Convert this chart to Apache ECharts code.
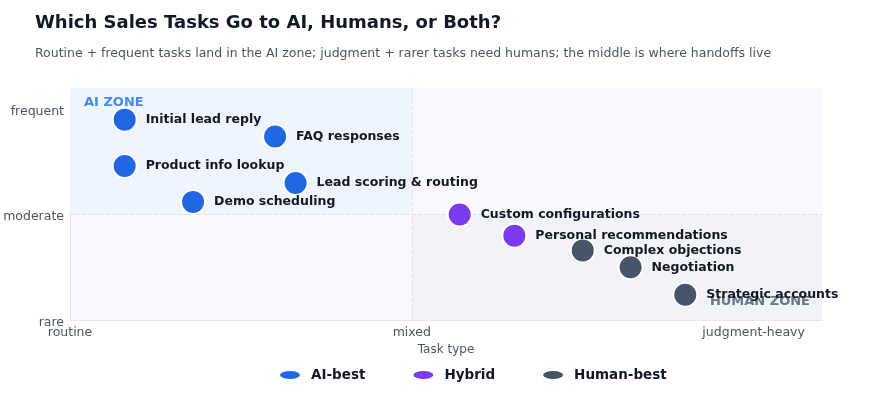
<!DOCTYPE html>
<html>
<head>
<meta charset="utf-8">
<script src="https://cdn.jsdelivr.net/npm/echarts@6/dist/echarts.min.js"></script>
<style>
  html, body { margin: 0; padding: 0; background: #fff; }
  #chart { width: 876px; height: 400px; }
</style>
</head>
<body>
<div id="chart"></div>
<script>
// task positions: x = task type (0 routine .. 1 judgment-heavy), y = frequency (0 rare .. 1 frequent)
var aiTasks = ['Initial lead reply', 'FAQ responses', 'Product info lookup', 'Lead scoring & routing', 'Demo scheduling'];
var aiX = [0.08, 0.30, 0.08, 0.33, 0.18];
var aiY = [0.95, 0.87, 0.73, 0.65, 0.56];

var hybridTasks = ['Custom configurations', 'Personal recommendations'];
var hybridX = [0.57, 0.65];
var hybridY = [0.50, 0.40];

var humanTasks = ['Complex objections', 'Negotiation', 'Strategic accounts'];
var humanX = [0.75, 0.82, 0.90];
var humanY = [0.33, 0.25, 0.12];

var xTickLabels = { 0: 'routine', 0.5: 'mixed', 1: 'judgment-heavy' };
var yTickLabels = { 0: 'rare', 0.5: 'moderate', 1: 'frequent' };

var FONT = 'DejaVu Sans';
var ELLIPSE = 'path://M0,4 A10,4 0 1 1 20,4 A10,4 0 1 1 0,4 Z';

function points(names, xs, ys) {
    return names.map(function (n, i) { return { name: n, value: [xs[i], ys[i]] }; });
}

function scatter(name, color, data) {
    return {
        name: name,
        type: 'scatter',
        symbolSize: 24,
        itemStyle: { color: color, opacity: 1, borderColor: '#fff', borderWidth: 2 },
        label: {
            show: true,
            position: 'right',
            distance: 8,
            formatter: '{b}',
            fontFamily: FONT,
            fontWeight: 'bold',
            fontSize: 12.5,
            color: '#111827'
        },
        emphasis: { disabled: true },
        data: data,
        z: 5
    };
}

var chart = echarts.init(document.getElementById('chart'));

var option = {
    animation: false,
    textStyle: { fontFamily: FONT },
    title: {
        text: 'Which Sales Tasks Go to AI, Humans, or Both?',
        subtext: 'Routine + frequent tasks land in the AI zone; judgment + rarer tasks need humans; the middle is where handoffs live',
        left: 30,
        top: 9,
        itemGap: 15,
        textStyle: { fontFamily: FONT, fontSize: 18, fontWeight: 'bold', color: '#111827' },
        subtextStyle: { fontFamily: FONT, fontSize: 12.5, color: '#4b5563' }
    },
    legend: {
        bottom: 13,
        left: 275,
        itemWidth: 20,
        itemHeight: 8,
        itemGap: 48,
        itemStyle: { opacity: 1, borderWidth: 0 },
        textStyle: { fontFamily: FONT, fontSize: 13.5, fontWeight: 'bold', color: '#111827', padding: [0, 0, 0, 6] },
        data: [
            { name: 'AI-best', icon: ELLIPSE },
            { name: 'Hybrid', icon: ELLIPSE },
            { name: 'Human-best', icon: ELLIPSE }
        ]
    },
    grid: { left: 70, right: 54, top: 88, bottom: 80, backgroundColor: '#f8f8fd', show: true, borderWidth: 0 },
    xAxis: {
        type: 'value',
        min: 0,
        max: 1.1,
        interval: 0.5,
        name: 'Task type',
        nameLocation: 'middle',
        nameGap: 24,
        nameTextStyle: { fontFamily: FONT, fontSize: 12, color: '#4b5563' },
        axisLine: { show: true, lineStyle: { color: '#e5e7eb' } },
        axisTick: { show: false },
        splitLine: { show: false },
        axisLabel: {
            fontFamily: FONT, fontSize: 12.5, color: '#4b5563', margin: 6,
            showMaxLabel: false,
            formatter: function (v) { return xTickLabels[v] || ''; }
        }
    },
    yAxis: {
        type: 'value',
        min: 0,
        max: 1.1,
        interval: 0.5,
        axisLine: { show: true, lineStyle: { color: '#e6e4f8' } },
        axisTick: { show: false },
        splitLine: { show: false },
        axisLabel: {
            fontFamily: FONT, fontSize: 12.5, color: '#4b5563', margin: 6,
            verticalAlign: 'top',
            lineHeight: 5,
            showMaxLabel: false,
            formatter: function (v) { return yTickLabels[v] || ''; }
        }
    },
    series: [
        {
            name: 'zones',
            type: 'scatter',
            data: [],
            silent: true,
            markArea: {
                silent: true,
                data: [
                    [{
                        name: 'AI ZONE',
                        coord: [0, 0.5], itemStyle: { color: '#eef5ff' },
                        label: {
                            show: true, position: 'insideTopLeft', distance: 8, offset: [6, 0],
                            fontFamily: FONT, fontWeight: 'bold', fontSize: 13, color: '#4a8ae8'
                        }
                    }, { coord: [0.5, 1.1] }],
                    [{
                        name: 'HUMAN ZONE',
                        coord: [0.5, 0], itemStyle: { color: '#f1f3f6' },
                        label: {
                            show: true, position: 'insideBottomRight', distance: 12, offset: [0, 0],
                            fontFamily: FONT, fontWeight: 'bold', fontSize: 13, color: '#6b7588'
                        }
                    }, { coord: [1.1, 0.5] }]
                ]
            },
            markLine: {
                silent: true,
                symbol: 'none',
                label: { show: false },
                lineStyle: { color: '#dde3f0', type: 'dashed', width: 1 },
                data: [{ xAxis: 0.5 }, { yAxis: 0.5 }]
            }
        },
        scatter('AI-best', '#2167e3', points(aiTasks, aiX, aiY)),
        scatter('Hybrid', '#7c3aed', points(hybridTasks, hybridX, hybridY)),
        scatter('Human-best', '#475569', points(humanTasks, humanX, humanY))
    ]
};

chart.setOption(option);
</script>
</body>
</html>
